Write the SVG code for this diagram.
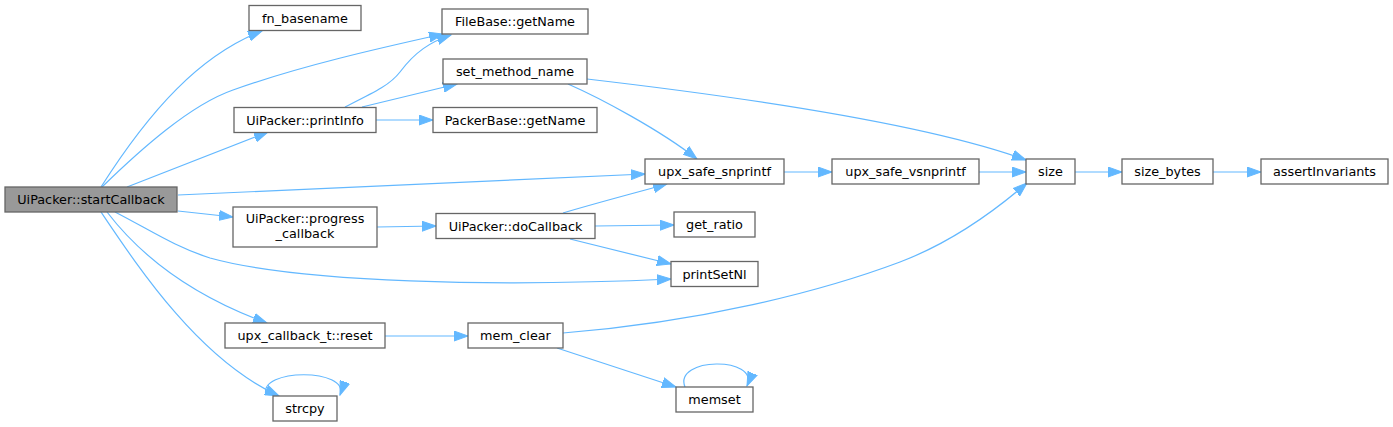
<svg xmlns="http://www.w3.org/2000/svg" width="1393" height="427" viewBox="0 0 1393 427">
<style>
.n rect{fill:#ffffff;stroke:#666666;stroke-width:1.3}
.m rect{fill:#999999;stroke:#666666;stroke-width:1.3}
text{font-family:"DejaVu Sans","Liberation Sans",sans-serif;font-size:12.8px;fill:#000000;text-anchor:middle}
.e path{fill:none;stroke:#63b8ff;stroke-width:1.2;marker-end:url(#a)}
</style>
<defs>
<marker id="a" markerUnits="userSpaceOnUse" markerWidth="15" markerHeight="11" refX="14" refY="5" orient="auto" viewBox="0 0 15 10">
<path d="M0,0 L14,5 L0,10 Z" fill="#63b8ff" stroke="#63b8ff" stroke-width="1"/>
</marker>
</defs>
<rect width="1393" height="427" fill="#ffffff"/>
<g class="e" id="edges">
<path d="M101,187 C150,110 200,55 262,31"/>
<path d="M102,187 C140,150 190,105 233,90 C300,66 380,48 443,34"/>
<path d="M127,187 L268,132"/>
<path d="M178,195 L645,174"/>
<path d="M178,211 L233,217"/>
<path d="M115,212 C150,230 175,247 210,258 C300,283 500,287 671,279"/>
<path d="M107,212 C140,255 190,295 267,323"/>
<path d="M101,212 C140,270 200,360 279,396"/>
<path d="M266,395 C258,368 350,368 340,395"/>
<path d="M345,107 C375,92 390,85 400,72 C415,52 430,42 451,35"/>
<path d="M362,107 L457,84"/>
<path d="M376,120 L433,120"/>
<path d="M568,84 C600,98 660,130 697,159"/>
<path d="M587,79 C750,98 930,125 1026,160"/>
<path d="M784,172 L832,172"/>
<path d="M979,172 L1026,172"/>
<path d="M1075,172 L1122,172"/>
<path d="M1213,172 L1261,172"/>
<path d="M377,227 L436,226"/>
<path d="M563,213 C600,202 635,193 667,184"/>
<path d="M595,226 L674,225"/>
<path d="M570,239 L671,264"/>
<path d="M385,336 L468,336"/>
<path d="M563,333 C700,322 820,292 900,262 C950,243 990,215 1027,183"/>
<path d="M557,348 L676,387"/>
<path d="M685,387 C673,357 760,356 747,386"/>
</g>
<g id="startCallback" class="m"><rect x="5" y="187" width="172" height="25"/><text x="91" y="204">UiPacker::startCallback</text></g>
<g id="fn_basename" class="n"><rect x="249" y="5.5" width="112" height="25"/><text x="305" y="22.5">fn_basename</text></g>
<g id="FileBase_getName" class="n"><rect x="442" y="9" width="146" height="25"/><text x="515" y="26">FileBase::getName</text></g>
<g id="set_method_name" class="n"><rect x="443" y="59" width="144" height="25"/><text x="515" y="76">set_method_name</text></g>
<g id="printInfo" class="n"><rect x="234" y="107.5" width="142" height="25"/><text x="305" y="124.5">UiPacker::printInfo</text></g>
<g id="PackerBase_getName" class="n"><rect x="433" y="107.5" width="164" height="25"/><text x="515" y="124.5">PackerBase::getName</text></g>
<g id="upx_safe_snprintf" class="n"><rect x="645" y="159" width="139" height="25"/><text x="714.5" y="176">upx_safe_snprintf</text></g>
<g id="upx_safe_vsnprintf" class="n"><rect x="832" y="159" width="147" height="25"/><text x="905.5" y="176">upx_safe_vsnprintf</text></g>
<g id="size" class="n"><rect x="1026" y="159" width="49" height="25"/><text x="1050.5" y="176">size</text></g>
<g id="size_bytes" class="n"><rect x="1122" y="159" width="91" height="25"/><text x="1167.5" y="176">size_bytes</text></g>
<g id="assertInvariants" class="n"><rect x="1261" y="159" width="127" height="25"/><text x="1324.5" y="176">assertInvariants</text></g>
<g id="progress_callback" class="n"><rect x="233" y="207" width="144" height="40"/><text x="305" y="222.5">UiPacker::progress</text><text x="305" y="237.5">_callback</text></g>
<g id="doCallback" class="n"><rect x="436" y="213.5" width="159" height="25"/><text x="515.5" y="230.5">UiPacker::doCallback</text></g>
<g id="get_ratio" class="n"><rect x="674" y="212" width="81" height="25"/><text x="714.5" y="229">get_ratio</text></g>
<g id="printSetNl" class="n"><rect x="671" y="261.5" width="87" height="25"/><text x="714.5" y="278.5">printSetNl</text></g>
<g id="reset" class="n"><rect x="225" y="323" width="160" height="25"/><text x="305" y="340">upx_callback_t::reset</text></g>
<g id="mem_clear" class="n"><rect x="468" y="323" width="95" height="25"/><text x="515.5" y="340">mem_clear</text></g>
<g id="memset" class="n"><rect x="676" y="387" width="77" height="25"/><text x="714.5" y="404">memset</text></g>
<g id="strcpy" class="n"><rect x="273" y="396" width="64" height="25"/><text x="305" y="413">strcpy</text></g>
</svg>
